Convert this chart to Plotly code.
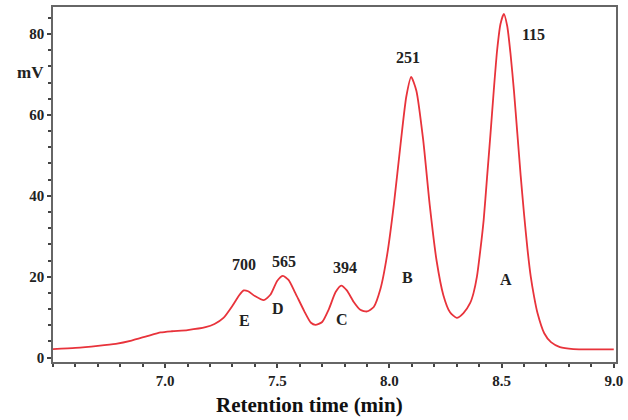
import plotly.graph_objects as go

# Retention time (min) and detector signal (mV)
time_min = [6.50, 6.60, 6.70, 6.78, 6.85, 6.92, 6.98, 7.03, 7.10, 7.18, 7.22, 7.26,
            7.30, 7.33, 7.35, 7.37, 7.40, 7.44, 7.47, 7.50, 7.525, 7.55, 7.58, 7.62,
            7.65, 7.67, 7.70, 7.73, 7.76, 7.785, 7.81, 7.84, 7.87, 7.90, 7.93, 7.96,
            7.99, 8.02, 8.05, 8.075, 8.097, 8.12, 8.15, 8.18, 8.21, 8.24, 8.27, 8.30,
            8.33, 8.36, 8.375, 8.39, 8.405, 8.42, 8.435, 8.45, 8.465, 8.48, 8.495, 8.51,
            8.525, 8.54, 8.555, 8.57, 8.585, 8.60, 8.615, 8.63, 8.645, 8.66,
            8.69, 8.72, 8.76, 8.82, 8.90, 9.00]
signal_mv = [2.1, 2.4, 2.9, 3.4, 4.2, 5.3, 6.2, 6.5, 6.8, 7.5, 8.3, 9.8,
             12.8, 15.4, 16.6, 16.4, 15.2, 14.2, 15.6, 19.0, 20.2, 19.2, 16.0, 11.5,
             8.6, 8.1, 8.8, 12.0, 16.2, 17.8, 16.6, 13.8, 11.8, 11.4, 12.5, 17.0,
             25.5, 38.0, 53.0, 64.5, 69.4, 66.0, 54.0, 37.5, 24.0, 15.5, 11.2, 9.8,
             11.0, 13.5, 16.0, 20.0, 26.5, 34.0, 44.5, 55.0, 66.0, 76.0, 82.5, 85.0,
             82.0, 75.0, 66.0, 55.5, 45.0, 35.5, 27.0, 20.0, 15.0, 11.0,
             6.0, 3.8, 2.6, 2.1, 2.0, 2.0]

# Peak annotations: molecular weight labels and peak letters
mw_labels = ["700", "565", "394", "251", "115"]
mw_x = [7.352, 7.528, 7.802, 8.084, 8.643]
mw_y = [23.0, 23.7, 22.2, 74.1, 80.0]
peak_labels = ["E", "D", "C", "B", "A"]
peak_x = [7.352, 7.505, 7.787, 8.082, 8.518]
peak_y = [9.1, 12.1, 9.4, 19.8, 19.4]

x_ticks = [7.0, 7.5, 8.0, 8.5, 9.0]
y_ticks = [0, 20, 40, 60, 80]

serif = "Liberation Serif"
fig = go.Figure()
fig.add_trace(go.Scatter(x=time_min, y=signal_mv, mode="lines",
                         line=dict(color="#e8333b", width=1.8, shape="spline", smoothing=0.6),
                         hoverinfo="skip", showlegend=False))

annotations = []
for t, x, y in zip(mw_labels, mw_x, mw_y):
    annotations.append(dict(x=x, y=y, text="<b>%s</b>" % t, showarrow=False,
                            font=dict(family=serif, size=16, color="#222")))
for t, x, y in zip(peak_labels, peak_x, peak_y):
    annotations.append(dict(x=x, y=y, text="<b>%s</b>" % t, showarrow=False,
                            font=dict(family=serif, size=16, color="#222")))
annotations.append(dict(xref="paper", yref="paper", x=-0.012, y=0.815,
                        xanchor="right", yanchor="middle",
                        text="<b>mV</b>", showarrow=False,
                        font=dict(family=serif, size=17, color="#222")))
annotations.append(dict(xref="paper", yref="paper", x=0.455, y=-0.121,
                        xanchor="center", yanchor="middle",
                        text="<b>Retention time (min)</b>", showarrow=False,
                        font=dict(family=serif, size=21, color="#111")))

fig.update_layout(
    width=628, height=420,
    margin=dict(l=53, r=5, t=6, b=58),
    paper_bgcolor="white", plot_bgcolor="white",
    annotations=annotations,
    xaxis=dict(range=[6.5, 9.01], tickvals=x_ticks,
               ticktext=["<b>%.1f</b>" % v for v in x_ticks],
               ticklabeloverflow="allow",
               showgrid=False, zeroline=False, showline=True, linecolor="#666", linewidth=1.5,
               mirror=True, ticks="outside", ticklen=4, tickcolor="#444", tickwidth=1.5,
               minor=dict(dtick=0.1, tick0=7.0, ticks="outside", ticklen=3, tickcolor="#444"),
               tickfont=dict(family=serif, size=15, color="#222")),
    yaxis=dict(range=[-1.1, 86.7], tickvals=y_ticks,
               ticktext=["<b>%d</b>" % v for v in y_ticks],
               showgrid=False, zeroline=False, showline=True, linecolor="#666", linewidth=1.5,
               mirror=True, ticks="outside", ticklen=4, tickcolor="#444", tickwidth=1.5,
               minor=dict(dtick=4, tick0=0, ticks="outside", ticklen=3, tickcolor="#444"),
               tickfont=dict(family=serif, size=15, color="#222")),
)

fig.write_html("out.html")
